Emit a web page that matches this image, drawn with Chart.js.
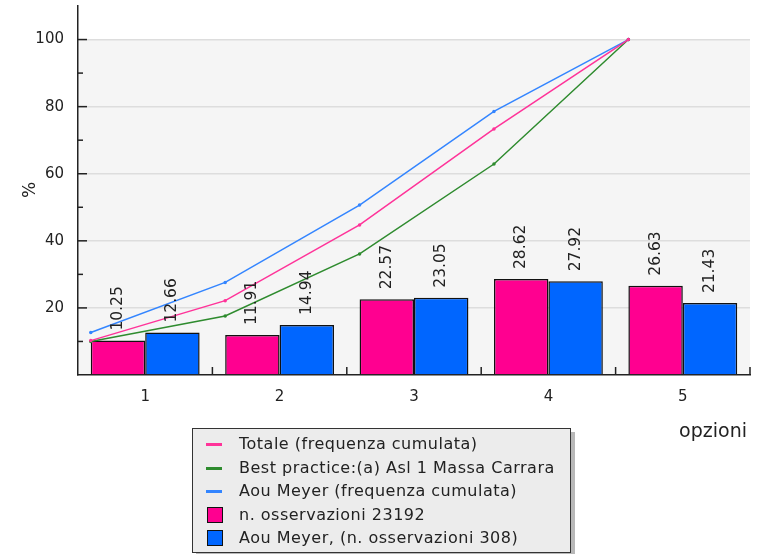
<!DOCTYPE html>
<html>
<head>
<meta charset="utf-8">
<script src="https://cdn.jsdelivr.net/npm/chart.js@4"></script>
<style>
  html, body { margin: 0; padding: 0; background: #fff; }
  #wrap { position: relative; width: 762px; height: 554px; }
  #legend {
    position: absolute; left: 192px; top: 428px; width: 379px; height: 125px;
    background: #ececec; border: 1px solid #333; box-shadow: 4px 4px 0 #b8b8b8;
    font-family: "DejaVu Sans", sans-serif; font-size: 16px; letter-spacing: 0.5px; color: #222;
    box-sizing: border-box; padding-top: 3px;
  }
  .row { position: relative; height: 23.6px; line-height: 23.6px; padding-left: 46px; white-space: nowrap; }
  .mk-line { position: absolute; left: 13px; top: 11px; width: 16px; height: 3px; }
  .mk-box { position: absolute; left: 14px; top: 4px; width: 14px; height: 14px; border: 1.5px solid #111; }
</style>
</head>
<body>
<div id="wrap">
  <canvas id="chart" width="762" height="554"></canvas>
  <div id="legend"></div>
</div>
<script>
const categories   = ['1', '2', '3', '4', '5'];
const totalBars    = [10.25, 11.91, 22.57, 28.62, 26.63];
const meyerBars    = [12.66, 14.94, 23.05, 27.92, 21.43];
const totalCum     = [10.25, 22.16, 44.73, 73.35, 100];
const bestPractice = [10.0, 17.6, 36.1, 62.9, 100];
const meyerCum     = [12.66, 27.6, 50.65, 78.57, 100];
const yLabels      = [20, 40, 60, 80, 100];

const FONT = '"DejaVu Sans", sans-serif';
const groupPct = 0.81;

// one linear x axis: category n sits at x = n, lines on the left edge of each bar group
const barData = vals => vals.map((v, i) => ({ x: i + 1, y: v }));
const lineData = vals => vals.map((v, i) => ({ x: i + 1 - groupPct / 2, y: v }));

const datasets = [
  { type: 'line', label: 'Totale (frequenza cumulata)', data: lineData(totalCum),
    borderColor: '#ff3399', backgroundColor: '#ff3399', borderWidth: 1.5, pointRadius: 1, order: 0 },
  { type: 'line', label: 'Best practice:(a) Asl 1 Massa Carrara', data: lineData(bestPractice),
    borderColor: '#2e8b2e', backgroundColor: '#2e8b2e', borderWidth: 1.5, pointRadius: 1, order: 0 },
  { type: 'line', label: 'Aou Meyer (frequenza cumulata)', data: lineData(meyerCum),
    borderColor: '#3385ff', backgroundColor: '#3385ff', borderWidth: 1.5, pointRadius: 1, order: 0 },
  { label: 'n. osservazioni 23192', data: barData(totalBars), backgroundColor: '#ff0090',
    borderColor: '#111', borderWidth: 1.5, categoryPercentage: groupPct, barPercentage: 1, order: 1 },
  { label: 'Aou Meyer, (n. osservazioni 308)', data: barData(meyerBars), backgroundColor: '#0066ff',
    borderColor: '#111', borderWidth: 1.5, categoryPercentage: groupPct, barPercentage: 1, order: 1 },
];

const extras = {
  id: 'extras',
  beforeDraw(chart) {
    const { ctx, chartArea: a, scales: { y } } = chart;
    ctx.save();
    ctx.fillStyle = '#f5f5f5';
    const top = y.getPixelForValue(100);
    ctx.fillRect(a.left, top, a.right - a.left, a.bottom - top);
    ctx.restore();
  },
  afterDraw(chart) {
    const { ctx, chartArea: a, scales: { x, y } } = chart;
    ctx.save();
    ctx.strokeStyle = '#222';
    ctx.lineWidth = 1.5;
    // y ticks, pointing inside
    for (let v = 10; v <= 100; v += 10) {
      const py = y.getPixelForValue(v);
      ctx.beginPath();
      ctx.moveTo(a.left, py);
      ctx.lineTo(a.left + (v % 20 === 0 ? 9 : 5), py);
      ctx.stroke();
    }
    // x ticks between categories
    categories.forEach((c, i) => {
      const px = x.getPixelForValue(i + 1.5);
      ctx.beginPath();
      ctx.moveTo(px, a.bottom);
      ctx.lineTo(px, a.bottom - 8);
      ctx.stroke();
    });
    // value labels above bars
    ctx.fillStyle = '#222';
    ctx.font = '15.5px ' + FONT;
    ctx.textAlign = 'left';
    ctx.textBaseline = 'middle';
    [3, 4].forEach(di => {
      chart.getDatasetMeta(di).data.forEach((bar, i) => {
        ctx.save();
        ctx.translate(bar.x, bar.y - 10);
        ctx.rotate(-Math.PI / 2);
        ctx.fillText(chart.data.datasets[di].data[i].y.toFixed(2), 0, 0);
        ctx.restore();
      });
    });
    // axis titles
    ctx.font = '17px ' + FONT;
    ctx.save();
    ctx.translate(31, 190);
    ctx.rotate(-Math.PI / 2);
    ctx.textAlign = 'center';
    ctx.fillText('%', 0, 0);
    ctx.restore();
    ctx.font = '19px ' + FONT;
    ctx.textAlign = 'right';
    ctx.fillText('opzioni', 747, 432);
    ctx.restore();
  }
};

new Chart(document.getElementById('chart'), {
  type: 'bar',
  data: { datasets },
  options: {
    responsive: false,
    animation: false,
    layout: { padding: { top: 6, right: 12, left: 0, bottom: 0 } },
    plugins: { legend: { display: false }, tooltip: { enabled: false } },
    scales: {
      x: {
        type: 'linear', min: 0.5, max: 5.5, offset: false,
        afterBuildTicks: s => { s.ticks = categories.map((c, i) => ({ value: i + 1 })); },
        grid: { display: false, drawTicks: false, offset: false },
        border: { color: '#222', width: 1.5 },
        ticks: {
          color: '#222', font: { family: FONT, size: 15 }, padding: 13,
          callback: v => categories[v - 1],
        },
        afterFit: s => { s.height = 179; s.paddingLeft = 0; s.paddingRight = 0; },
      },
      y: {
        min: 0, max: 110,
        ticks: {
          stepSize: 10, color: '#222', padding: 14,
          font: { family: FONT, size: 15 },
          callback: v => (yLabels.includes(v) ? String(v) : ''),
        },
        grid: {
          drawTicks: false, lineWidth: 1.5,
          color: c => (yLabels.includes(c.tick.value) ? '#dddddd' : 'rgba(0,0,0,0)'),
        },
        border: { color: '#222', width: 1.5 },
        afterFit: s => { s.width = 78; s.paddingTop = 0; s.paddingBottom = 0; },
      },
    },
  },
  plugins: [extras],
});

// html legend from the datasets
const legend = document.getElementById('legend');
datasets.forEach(d => {
  const row = document.createElement('div');
  row.className = 'row';
  const mk = document.createElement('span');
  mk.className = d.type === 'line' ? 'mk-line' : 'mk-box';
  mk.style.background = d.type === 'line' ? d.borderColor : d.backgroundColor;
  row.appendChild(mk);
  row.appendChild(document.createTextNode(d.label));
  legend.appendChild(row);
});
</script>
</body>
</html>
